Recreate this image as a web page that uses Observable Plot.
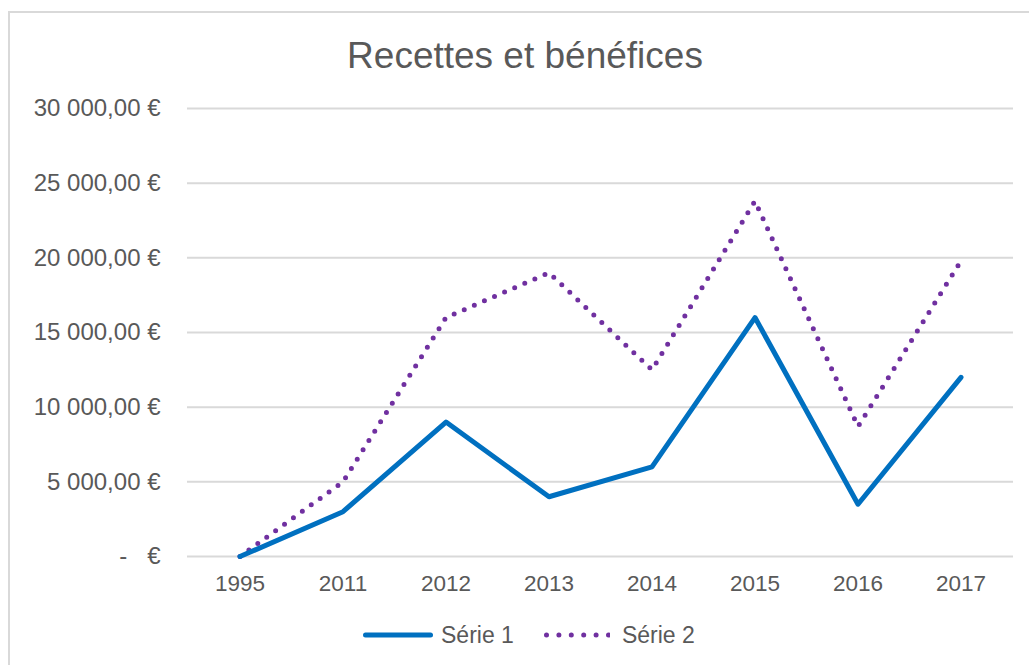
<!DOCTYPE html>
<html>
<head>
<meta charset="utf-8">
<script src="https://cdn.jsdelivr.net/npm/d3@7"></script>
<script src="https://cdn.jsdelivr.net/npm/@observablehq/plot@0.6"></script>
<style>
  html, body { margin: 0; padding: 0; background: #fff; }
  body { font-family: "Liberation Sans", Arial, sans-serif; }
  #wrap { position: relative; width: 1029px; height: 665px; overflow: hidden; background: #fff; }
  #frame { position: absolute; left: 8px; top: 11px; width: 1040px; height: 700px; border: 2px solid #d9d9d9; box-sizing: border-box; }
  #title { position: absolute; left: 0; top: 37px; width: 1050px; text-align: center; font-size: 37px; line-height: 1; color: #595959; }
  #chart { position: absolute; left: 0; top: 0; }
  #legend { position: absolute; left: 363px; top: 622px; height: 26px; display: flex; align-items: center; font-size: 23px; color: #595959; }
  #legend span { line-height: 1; }
</style>
</head>
<body>
<div id="wrap">
  <div id="frame"></div>
  <div id="chart"></div>
  <div id="title">Recettes et bénéfices</div>
  <div id="legend"></div>
</div>
<script>
const years = ["1995", "2011", "2012", "2013", "2014", "2015", "2016", "2017"];
const serie1 = [0, 3000, 9000, 4000, 6000, 16000, 3500, 12000];
const serie2 = [0, 5000, 16000, 19000, 12500, 23800, 8700, 19800];
const yTicks = [0, 5000, 10000, 15000, 20000, 25000, 30000];
const seriesNames = ["Série 1", "Série 2"];
const seriesColors = ["#0070C0", "#7030A0"];

const rows1 = years.map((y, i) => ({year: y, value: serie1[i]}));
const rows2 = years.map((y, i) => ({year: y, value: serie2[i]}));

const fmtNum = d3.format(",.2f");
const fmtEuro = d => d === 0 ? "-\u00a0\u00a0\u00a0€" : fmtNum(d).replace(/,/g, "\u00a0").replace(".", ",") + "\u00a0€";

const chart = Plot.plot({
  width: 1029,
  height: 665,
  marginTop: 108,
  marginBottom: 109,
  marginLeft: 187,
  marginRight: 16,
  style: {fontFamily: "'Liberation Sans', Arial, sans-serif", fontSize: "22px", color: "#595959", background: "transparent"},
  x: {type: "band", domain: years, padding: 0, label: null},
  y: {domain: [0, 30000], label: null},
  marks: [
    Plot.gridY(yTicks, {stroke: "#d9d9d9", strokeOpacity: 1, strokeWidth: 2}),
    Plot.axisY(yTicks, {tickSize: 0, tickPadding: 27, tickFormat: fmtEuro, fontSize: 24, fill: "#595959", label: null}),
    Plot.axisX({tickSize: 0, tickPadding: 19, fontSize: 22.5, fill: "#595959", label: null}),
    Plot.line(rows2, {x: "year", y: "value", stroke: seriesColors[1], strokeWidth: 5, strokeDasharray: "0 11", strokeLinecap: "round", strokeLinejoin: "round"}),
    Plot.line(rows1, {x: "year", y: "value", stroke: seriesColors[0], strokeWidth: 5, strokeLinecap: "round", strokeLinejoin: "round"})
  ]
});
document.getElementById("chart").appendChild(chart);

const legend = document.getElementById("legend");
legend.innerHTML = `
  <svg width="70" height="10"><line x1="2.5" x2="67.5" y1="5" y2="5" stroke="${seriesColors[0]}" stroke-width="5" stroke-linecap="round"/></svg>
  <span style="margin-left:8px">${seriesNames[0]}</span>
  <svg width="66" height="10" style="margin-left:30px"><line x1="2.5" x2="64.5" y1="5" y2="5" stroke="${seriesColors[1]}" stroke-width="5" stroke-linecap="round" stroke-dasharray="0 12.4"/></svg>
  <span style="margin-left:12px">${seriesNames[1]}</span>
`;
</script>
</body>
</html>
